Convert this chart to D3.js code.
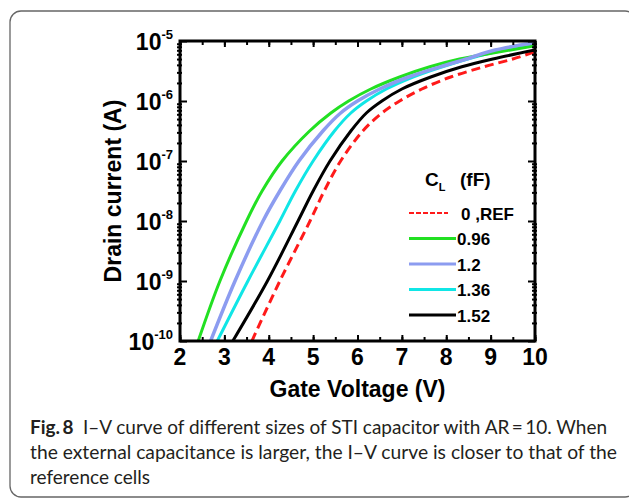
<!DOCTYPE html>
<html>
<head>
<meta charset="utf-8">
<script src="https://cdn.jsdelivr.net/npm/d3@7"></script>
<style>
	body { margin: 0; background: #fff; }
	svg { display: block; }
	.lbl { font-family: "Liberation Sans", Arial, sans-serif; font-weight: bold; fill: #000; }
	.cap { font-family: Lato, "Open Sans", sans-serif; fill: #231f20; }
</style>
</head>
<body>
<div id="chart"></div>
<script>
	// data: [gate voltage (V), log10 drain current (A)]
	let seriesLabels = ["0 ,REF", "0.96", "1.2", "1.36", "1.52"];
	let ref0 = [[3.62,-10],[4.25,-9],[4.93,-8],[5.25,-7.5],[5.62,-7],[6.12,-6.5],[6.55,-6.2],[6.95,-6.0],[7.45,-5.8],[8.1,-5.6],[8.85,-5.43],[9.5,-5.3],[10,-5.18]];
	let cl096 = [[2.41,-10],[2.9,-9],[3.5,-8],[3.85,-7.5],[4.3,-7],[4.92,-6.5],[5.4,-6.2],[5.8,-6.0],[6.3,-5.8],[6.95,-5.6],[7.63,-5.43],[8.3,-5.3],[9.05,-5.2],[10,-5.08]];
	let cl12 = [[2.69,-10],[3.24,-9],[3.87,-8],[4.25,-7.5],[4.68,-7],[5.22,-6.5],[5.62,-6.2],[6.0,-6.0],[6.5,-5.8],[7.15,-5.6],[7.86,-5.43],[8.45,-5.3],[9.1,-5.15],[10,-5.03]];
	let cl136 = [[2.84,-10],[3.53,-9],[4.25,-8],[4.6,-7.5],[5.0,-7],[5.48,-6.5],[5.85,-6.2],[6.2,-6.0],[6.65,-5.8],[7.25,-5.6],[7.95,-5.42],[9.0,-5.2],[10,-5.07]];
	let cl152 = [[3.19,-10],[3.97,-9],[4.66,-8],[5.0,-7.5],[5.38,-7],[5.85,-6.5],[6.2,-6.2],[6.55,-6.0],[7.0,-5.8],[7.65,-5.6],[8.35,-5.43],[9.05,-5.3],[10,-5.15]];
	let xTicks = [2, 3, 4, 5, 6, 7, 8, 9, 10];
	let yExponents = [-5, -6, -7, -8, -9, -10];
	let captionLines = [
		"I\u2013V curve of different sizes of STI capacitor with AR\u2009=\u200910. When",
		"the external capacitance is larger, the I\u2013V curve is closer to that of the",
		"reference cells"
	];

	let allSeries = [ref0, cl096, cl12, cl136, cl152];
	let colors = ["#ff1a1a", "#22e022", "#8c9cf0", "#10e6e6", "#000000"];
	let widths = [3, 3, 3.5, 3, 3];

	let W = 629, H = 500;
	let margin = {left: 180, right: 94, top: 41, bottom: 159};
	let x = d3.scaleLinear().domain([2, 10]).range([margin.left, W - margin.right]);
	let y = d3.scaleLog().domain([1e-10, 1e-5]).range([H - margin.bottom, margin.top]);

	let svg = d3.select("#chart").append("svg").attr("width", W).attr("height", H);

	// outer frame of the figure
	svg.append("rect")
		.attr("x", 10).attr("y", 11).attr("width", 626).attr("height", 486)
		.attr("rx", 11)
		.attr("fill", "none").attr("stroke", "#666").attr("stroke-width", 1.3);

	// clip the curves to the plot box
	svg.append("clipPath").attr("id", "clip")
		.append("rect")
		.attr("x", x(2)).attr("y", y(1e-5))
		.attr("width", x(10) - x(2)).attr("height", y(1e-10) - y(1e-5));

	let line = d3.line()
		.x(function(d) { return x(d[0]); })
		.y(function(d) { return y(Math.pow(10, d[1])); })
		.curve(d3.curveCatmullRom.alpha(0.5));

	let curves = svg.append("g").attr("clip-path", "url(#clip)");
	// draw order: red below, then the others
	[0, 4, 3, 1, 2].forEach(function(i) {
		curves.append("path")
			.attr("d", line(allSeries[i]))
			.attr("fill", "none")
			.attr("stroke", colors[i])
			.attr("stroke-width", widths[i])
			.attr("stroke-linejoin", "round")
			.attr("stroke-dasharray", i === 0 ? "9,5" : null);
	});

	// axes: ticks inward, labels added by hand
	let halfTicks = d3.range(2, 10.01, 0.5);
	let minorY = [];
	yExponents.forEach(function(e) {
		if (e === -5) return;
		for (let k = 2; k <= 9; k++) minorY.push(k * Math.pow(10, e));
	});
	let decades = yExponents.map(function(e) { return Math.pow(10, e); });

	function styleAxis(g) {
		g.select(".domain").remove();
		g.selectAll("line").attr("stroke", "#000").attr("stroke-width", 2);
		g.selectAll("text").remove();
	}

	let xb = y(1e-10), xt = y(1e-5);
	svg.append("g").attr("transform", "translate(0," + xb + ")")
		.call(d3.axisBottom(x).tickValues(halfTicks).tickSize(-4)).call(styleAxis);
	svg.append("g").attr("transform", "translate(0," + xb + ")")
		.call(d3.axisBottom(x).tickValues(xTicks).tickSize(-6)).call(styleAxis);
	svg.append("g").attr("transform", "translate(0," + xt + ")")
		.call(d3.axisTop(x).tickValues(halfTicks).tickSize(-4)).call(styleAxis);
	svg.append("g").attr("transform", "translate(0," + xt + ")")
		.call(d3.axisTop(x).tickValues(xTicks).tickSize(-6)).call(styleAxis);

	let yl = x(2), yr = x(10);
	svg.append("g").attr("transform", "translate(" + (yl + 2) + ",0)")
		.call(d3.axisLeft(y).tickValues(minorY).tickSize(5)).call(styleAxis);
	svg.append("g").attr("transform", "translate(" + yl + ",0)")
		.call(d3.axisLeft(y).tickValues(decades).tickSize(-7)).call(styleAxis);
	svg.append("g").attr("transform", "translate(" + (yr + 2) + ",0)")
		.call(d3.axisLeft(y).tickValues(minorY).tickSize(5)).call(styleAxis);
	svg.append("g").attr("transform", "translate(" + yr + ",0)")
		.call(d3.axisRight(y).tickValues(decades).tickSize(-7)).call(styleAxis);

	// plot box
	svg.append("rect")
		.attr("x", x(2)).attr("y", y(1e-5))
		.attr("width", x(10) - x(2)).attr("height", y(1e-10) - y(1e-5))
		.attr("fill", "none").attr("stroke", "#000").attr("stroke-width", 3);

	// tick labels
	svg.append("g").selectAll("text").data(xTicks).enter()
		.append("text").attr("class", "lbl")
		.attr("x", function(d) { return x(d); })
		.attr("y", xb + 24)
		.attr("text-anchor", "middle")
		.attr("font-size", 23)
		.text(function(d) { return d; });

	let yLab = svg.append("g").selectAll("text").data(yExponents).enter()
		.append("text").attr("class", "lbl")
		.attr("x", x(2) - 7)
		.attr("y", function(d) { return y(Math.pow(10, d)) + 9; })
		.attr("text-anchor", "end")
		.attr("font-size", 23);
	yLab.append("tspan").text("10");
	yLab.append("tspan").attr("font-size", 13).attr("dy", -11)
		.text(function(d) { return d; });

	// axis titles
	svg.append("text").attr("class", "lbl")
		.attr("x", (x(2) + x(10)) / 2).attr("y", 397)
		.attr("text-anchor", "middle").attr("font-size", 23)
		.text("Gate Voltage (V)");
	svg.append("text").attr("class", "lbl")
		.attr("transform", "translate(121," + ((y(1e-5) + y(1e-10)) / 2) + ") rotate(-90)")
		.attr("text-anchor", "middle").attr("font-size", 23)
		.text("Drain current (A)");

	// legend
	let legend = svg.append("g");
	let title = legend.append("text").attr("class", "lbl")
		.attr("x", 425).attr("y", 186).attr("font-size", 19);
	title.append("tspan").text("C");
	title.append("tspan").attr("font-size", 11).attr("dy", 5).text("L");
	title.append("tspan").attr("dy", -5).attr("x", 460).text("(fF)");

	let legY = d3.scalePoint().domain(seriesLabels).range([213, 315]);
	seriesLabels.forEach(function(s, i) {
		legend.append("line")
			.attr("x1", 409).attr("x2", i === 0 ? 448 : 456)
			.attr("y1", legY(s)).attr("y2", legY(s))
			.attr("stroke", colors[i]).attr("stroke-width", i === 0 ? 2 : 3)
			.attr("stroke-dasharray", i === 0 ? "5,2" : null);
		legend.append("text").attr("class", "lbl")
			.attr("x", i === 0 ? 461 : 457).attr("y", legY(s) + 6.5)
			.attr("font-size", 17)
			.text(s);
	});

	// caption
	let cap = svg.append("g");
	let first = cap.append("text").attr("class", "cap")
		.attr("x", 30).attr("y", 434).attr("font-size", 19)
		.attr("textLength", 577).attr("lengthAdjust", "spacingAndGlyphs");
	first.append("tspan").attr("font-weight", "bold").text("Fig.\u20098");
	first.append("tspan").text("\u2002" + captionLines[0]);
	cap.append("text").attr("class", "cap")
		.attr("x", 30).attr("y", 459).attr("font-size", 19)
		.attr("textLength", 587).attr("lengthAdjust", "spacingAndGlyphs")
		.text(captionLines[1]);
	cap.append("text").attr("class", "cap")
		.attr("x", 30).attr("y", 484).attr("font-size", 19)
		.text(captionLines[2]);
</script>
</body>
</html>
